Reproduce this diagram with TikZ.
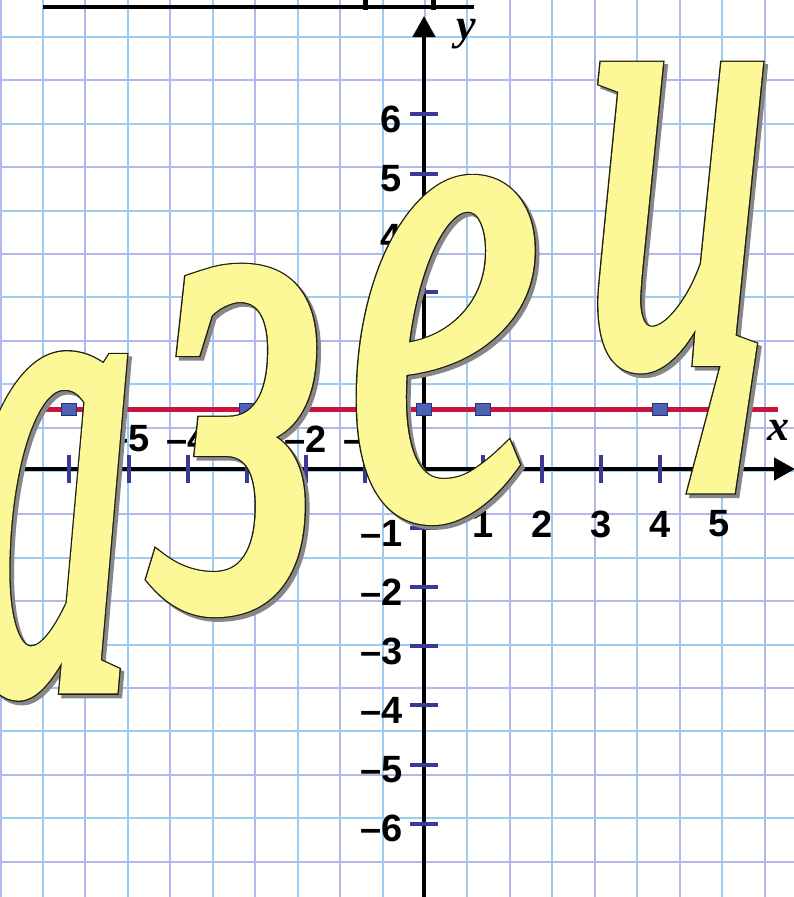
\documentclass[tikz,border=0pt]{standalone}
\usepackage{graphicx}
\usepackage{fontspec}
\setmainfont{Liberation Sans}
\newfontfamily\letterfont{Liberation Serif}
\newfontfamily\wafont[FakeStretch=0.5]{Liberation Serif}
\usetikzlibrary{arrows.meta}
\definecolor{gridA}{RGB}{176,184,236}
\definecolor{gridB}{RGB}{158,204,240}
\definecolor{tickblue}{RGB}{58,58,150}
\definecolor{redline}{RGB}{198,22,62}
\definecolor{markblue}{RGB}{78,98,180}
\definecolor{markedge}{RGB}{40,50,120}
\definecolor{wafill}{RGB}{252,248,152}
\definecolor{washadow}{RGB}{135,135,135}
\tikzset{
  gridline/.style={line width=2pt},
  axisline/.style={line width=4.5pt, black, -{Triangle[length=21pt,width=22pt]}},
  tickmark/.style={line width=4pt, tickblue},
  lbl/.style={font=\fontsize{38}{38}\selectfont\bfseries, inner sep=0pt, text=black},
  axlbl/.style={font=\fontsize{44}{44}\selectfont\letterfont\bfseries\itshape, inner sep=0pt},
  marker/.style={fill=markblue, draw=markedge, line width=1pt},
  wabase/.style={anchor=north west, inner sep=0pt, outer sep=0pt},
  wash/.style={wabase, text=washadow},
  waedge/.style={wabase, text=wafill},
  wafil/.style={wabase, text=wafill},
}
% glyph resized to #1 x #2, stroked with a line of #3 px, stroke colour #4
\newcommand\waglyph[5]{%
  \sbox0{\wafont\itshape #5}%
  \pgfmathsetmacro\wasc{sqrt((#1/\the\wd0)*(#2/(\the\ht0+\the\dp0)))}%
  \pgfmathsetmacro\walw{(#3)/\wasc}%
  \resizebox*{#1pt}{#2pt}{\special{pdf:literal direct 2 Tr \walw\space w #4 RG}\wafont\itshape #5\special{pdf:literal direct 0 Tr}}}
% #1 name, #2 x, #3 y (top-left), #4 width, #5 total height, #6 letter
\newcommand\waletter[6]{%
  \node[wash] at (#2+3.5,#3+3.5) {\waglyph{#4}{#5}{13.6}{0.53 0.53 0.53}{#6}};
  \node[waedge] (#1e) at (#2,#3) {\waglyph{#4}{#5}{13.6}{0.12 0.12 0.05}{#6}};
  \node[wafil] (#1) at (#2,#3) {\waglyph{#4}{#5}{11}{0.988 0.973 0.596}{#6}};
}
\begin{document}
\begin{tikzpicture}[x=1pt,y=-1pt]
\useasboundingbox (0,0) rectangle (794,897);
\fill[white] (0,0) rectangle (794,897);
% grid
\foreach \k in {0,2,...,18} {\draw[gridline,gridA] ({0.5+42.45*\k},0) -- ({0.5+42.45*\k},897);}
\foreach \k in {1,3,...,17} {\draw[gridline,gridB] ({0.5+42.45*\k},0) -- ({0.5+42.45*\k},897);}
\foreach \k in {0,2,...,18} {\draw[gridline,gridB] (0,{37+43.4*\k}) -- (794,{37+43.4*\k});}
\foreach \k in {1,3,...,19} {\draw[gridline,gridA] (0,{37+43.4*\k}) -- (794,{37+43.4*\k});}
% top line
\draw[line width=4.5pt] (43,7) -- (474,7);
\draw[line width=5pt] (365,0) -- (365,10);
\draw[line width=5pt] (433,0) -- (433,10);
% axes
\coordinate (xs) at (15,469);
\coordinate (xe) at (795,469);
\coordinate (ys) at (424,897);
\coordinate (ye) at (424,16);
\draw[axisline] (xs) -- (xe);
\draw[axisline] (ys) -- (ye);
% ticks
\foreach \k in {-6,...,-1,1,2,...,5} {\draw[tickmark] ({424+59.1*\k},455) -- ({424+59.1*\k},483);}
\foreach \k in {-6,...,-1,1,2,...,6} {\draw[tickmark] (410,{469-59.1*\k}) -- (438,{469-59.1*\k});}
% labels y
\foreach \k in {1,...,6} {\node[lbl,anchor=east] (ly\k) at (402,{474-59.1*\k}) {\k};}
\foreach \k in {1,...,6} {\node[lbl,anchor=east] (lyn\k) at (403,{474+59.1*\k}) {–\k};}
% labels x
\foreach \k in {1,...,5} {\node[lbl] (lx\k) at ({424+59.1*\k},524) {\k};}
\foreach \k in {1,...,5} {\node[lbl] (lxn\k) at ({424-59.1*\k},439) {–\k};}
\node[axlbl] (ylab) at (466,34) {y};
\node[axlbl] (xlab) at (778,430) {x};
% red line and points
\coordinate (rs) at (45,409.9);
\coordinate (re) at (778,409.9);
\draw[redline, line width=5pt] (rs) -- (re);
\foreach \k in {-6,-3,0,1,4} {\draw[marker] ({424+59.1*\k-7.5},403.9) rectangle ++(15,12);}
% word art letters
\waletter{la}{-36}{357}{170}{336}{а}
\waletter{lz}{158}{269}{162}{341}{з}
\waletter{le}{350}{180}{188}{338}{е}
\waletter{lc}{586}{67}{184}{420}{ц}
\end{tikzpicture}
\end{document}
